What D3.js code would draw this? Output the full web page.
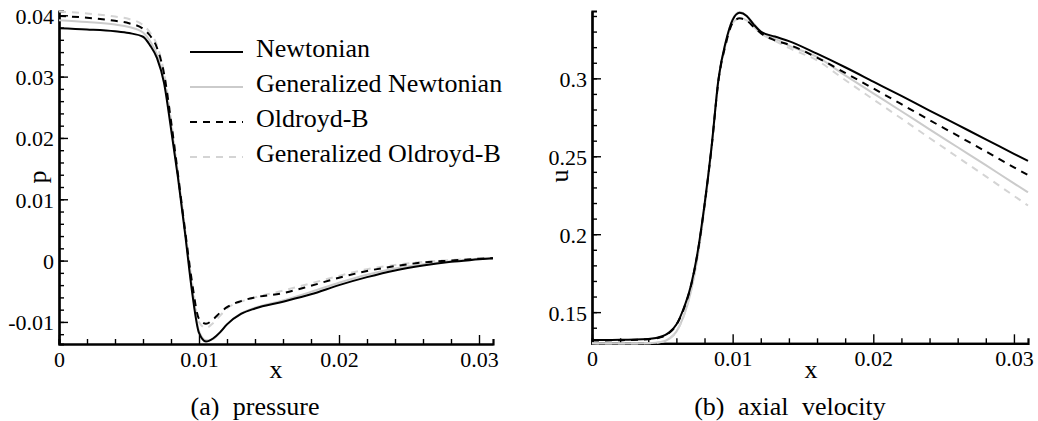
<!DOCTYPE html>
<html>
<head>
<meta charset="utf-8">
<script src="https://cdn.jsdelivr.net/npm/d3@7"></script>
</head>
<body style="margin:0">
<svg id="chart" width="1038" height="421" style="font-family: 'Liberation Serif'"></svg>
<script>
// --- data -------------------------------------------------------------------
const seriesNames = ['Newtonian', 'Generalized Newtonian', 'Oldroyd-B', 'Generalized Oldroyd-B'];

// (a) pressure
const xPressure = [0, 0.002, 0.004, 0.005, 0.006, 0.0065, 0.007, 0.0075, 0.008, 0.0085, 0.009, 0.0095,
  0.010, 0.0105, 0.011, 0.0115, 0.012, 0.013, 0.014, 0.016, 0.018, 0.020, 0.022, 0.024, 0.026, 0.028, 0.030, 0.031];
const pNewtonian = [0.0379, 0.0377, 0.0374, 0.0371, 0.0365, 0.0351, 0.0330, 0.0290, 0.0215, 0.0135, 0.0045, -0.0050,
  -0.0118, -0.0132, -0.0127, -0.0117, -0.0104, -0.0087, -0.0078, -0.0067, -0.0055, -0.0040, -0.0027, -0.0016, -0.0008, -0.0002, 0.0002, 0.0004];
const pGenNewtonian = [0.0392, 0.0389, 0.0385, 0.0381, 0.0372, 0.0358, 0.0336, 0.0295, 0.0222, 0.0140, 0.0050, -0.0045,
  -0.0115, -0.0130, -0.0128, -0.0117, -0.0104, -0.0086, -0.0077, -0.0065, -0.0051, -0.0036, -0.0023, -0.0013, -0.0006, -0.0001, 0.0003, 0.0004];
const pOldroydB = [0.0399, 0.0396, 0.0391, 0.0387, 0.0378, 0.0367, 0.0347, 0.0305, 0.0228, 0.0140, 0.0050, -0.0035,
  -0.0095, -0.0103, -0.0096, -0.0085, -0.0076, -0.0066, -0.0060, -0.0053, -0.0041, -0.0028, -0.0017, -0.0009, -0.0003, 0.0000, 0.0003, 0.0004];
const pGenOldroydB = [0.0406, 0.0403, 0.0398, 0.0394, 0.0384, 0.0372, 0.0351, 0.0307, 0.0230, 0.0142, 0.0052, -0.0035,
  -0.0100, -0.0110, -0.0102, -0.0090, -0.0078, -0.0067, -0.0060, -0.0049, -0.0037, -0.0025, -0.0014, -0.0007, -0.0002, 0.0001, 0.0003, 0.0004];

// (b) axial velocity
const xVelocity = [0, 0.002, 0.004, 0.005, 0.0055, 0.006, 0.0065, 0.007, 0.0075, 0.008, 0.0085, 0.009, 0.0095,
  0.010, 0.0105, 0.011, 0.0115, 0.012, 0.013, 0.014, 0.016, 0.018, 0.020, 0.022, 0.024, 0.026, 0.028, 0.030, 0.031];
const uNewtonian = [0.1321, 0.1322, 0.1328, 0.1345, 0.1370, 0.1420, 0.1520, 0.1660, 0.1880, 0.2190, 0.2560, 0.3000, 0.3230,
  0.3375, 0.3420, 0.3400, 0.3345, 0.3300, 0.3268, 0.3239, 0.3158, 0.3071, 0.2979, 0.2887, 0.2793, 0.2701, 0.2609, 0.2516, 0.2470];
const uGenNewtonian = [0.1300, 0.1298, 0.1300, 0.1310, 0.1330, 0.1375, 0.1470, 0.1620, 0.1850, 0.2170, 0.2550, 0.3000, 0.3230,
  0.3380, 0.3425, 0.3400, 0.3350, 0.3300, 0.3255, 0.3210, 0.3137, 0.3019, 0.2904, 0.2789, 0.2673, 0.2558, 0.2443, 0.2326, 0.2269];
const uOldroydB = [0.1318, 0.1320, 0.1326, 0.1342, 0.1368, 0.1418, 0.1515, 0.1655, 0.1875, 0.2185, 0.2555, 0.2990, 0.3215,
  0.3355, 0.3385, 0.3370, 0.3330, 0.3290, 0.3244, 0.3216, 0.3133, 0.3035, 0.2935, 0.2834, 0.2732, 0.2632, 0.2531, 0.2429, 0.2379];
const uGenOldroydB = [0.1300, 0.1298, 0.1300, 0.1310, 0.1330, 0.1375, 0.1470, 0.1620, 0.1850, 0.2170, 0.2550, 0.2990, 0.3215,
  0.3355, 0.3385, 0.3372, 0.3330, 0.3290, 0.3240, 0.3195, 0.3115, 0.2989, 0.2865, 0.2742, 0.2617, 0.2494, 0.2371, 0.2246, 0.2184];

// ticks
const xMajorTicks = [0, 0.01, 0.02, 0.03];
const pMajorTicks = [-0.01, 0, 0.01, 0.02, 0.03, 0.04];
const uMajorTicks = [0.15, 0.2, 0.25, 0.3];

// --- styles -----------------------------------------------------------------
const FONT = 'Liberation Serif';
const lineStyles = [
  { color: '#000000', dash: null },
  { color: '#cbcbcb', dash: null },
  { color: '#000000', dash: '7,6' },
  { color: '#d4d4d4', dash: '7,6' }
];

const svg = d3.select('#chart');
const fmt = d => String(+d.toFixed(3));

// every text gets the serif family explicitly
function serif(sel, size) {
  return sel.attr('font-family', FONT).attr('font-size', size).style('font-family', FONT);
}

function drawPanel(opt) {
  const x = d3.scaleLinear().domain([0, 0.031]).range(opt.xRange);
  const y = d3.scaleLinear().domain(opt.yDomain).range(opt.yRange);
  const g = svg.append('g');

  // minor ticks first, then majors with labels
  const minorX = d3.range(0, 0.0311, 0.002).filter(v => !xMajorTicks.some(t => Math.abs(t - v) < 1e-9));
  g.append('g')
    .attr('transform', `translate(0,${opt.yRange[0]})`)
    .call(d3.axisBottom(x).tickValues(minorX).tickSize(-5).tickFormat(''));
  g.append('g')
    .attr('transform', `translate(${opt.xRange[0]},0)`)
    .call(d3.axisLeft(y).tickValues(opt.yMinor).tickSize(-5).tickFormat(''));

  const xa = g.append('g')
    .attr('transform', `translate(0,${opt.yRange[0]})`)
    .call(d3.axisBottom(x).tickValues(xMajorTicks).tickSize(-9).tickSizeOuter(0).tickPadding(0).tickFormat(fmt));
  xa.selectAll('text').attr('y', 23).attr('dy', 0);

  const ya = g.append('g')
    .attr('transform', `translate(${opt.xRange[0]},0)`)
    .call(d3.axisLeft(y).tickValues(opt.yMajor).tickSize(-9).tickSizeOuter(0).tickFormat(fmt));
  ya.selectAll('text').attr('x', -5).attr('dy', '0.36em');

  g.selectAll('g').attr('font-family', null).attr('font-size', null);
  serif(g.selectAll('.tick text'), 22).attr('fill', '#000');
  g.selectAll('.domain').attr('stroke', '#000').attr('stroke-width', 2.2);
  g.selectAll('.tick line').attr('stroke', '#000').attr('stroke-width', 1.4);

  // curves
  const line = d3.line().x(d => x(d[0])).y(d => y(d[1])).curve(d3.curveMonotoneX);
  const order = [1, 3, 2, 0];
  order.forEach(i => {
    const pts = opt.xs.map((v, k) => [v, opt.series[i][k]]);
    g.append('path')
      .attr('d', line(pts))
      .attr('fill', 'none')
      .attr('stroke', lineStyles[i].color)
      .attr('stroke-width', 2)
      .attr('stroke-dasharray', lineStyles[i].dash);
  });

  // axis titles
  serif(g.append('text'), 26)
    .attr('x', opt.xTitle[0]).attr('y', opt.xTitle[1])
    .attr('text-anchor', 'middle')
    .text('x');
  serif(g.append('text'), 26)
    .attr('transform', `translate(${opt.yTitle[0]},${opt.yTitle[1]}) rotate(-90)`)
    .attr('text-anchor', 'middle')
    .text(opt.yLabel);

  // caption
  serif(g.append('text'), 26)
    .attr('x', opt.caption[0]).attr('y', opt.caption[1])
    .attr('text-anchor', 'middle')
    .attr('word-spacing', 7)
    .text(opt.captionText);
}

drawPanel({
  xRange: [59, 493],
  yDomain: [-0.0136, 0.0407],
  yRange: [344, 11],
  yMajor: pMajorTicks,
  yMinor: d3.range(-0.012, 0.0405, 0.002),
  xs: xPressure,
  series: [pNewtonian, pGenNewtonian, pOldroydB, pGenOldroydB],
  xTitle: [276, 378],
  yTitle: [46, 177],
  yLabel: 'p',
  caption: [255, 415],
  captionText: '(a) pressure'
});

drawPanel({
  xRange: [592, 1028],
  yDomain: [0.13, 0.3432],
  yRange: [343.3, 11],
  yMajor: uMajorTicks,
  yMinor: d3.range(0.14, 0.3405, 0.01),
  xs: xVelocity,
  series: [uNewtonian, uGenNewtonian, uOldroydB, uGenOldroydB],
  xTitle: [811, 378],
  yTitle: [568, 176],
  yLabel: 'u',
  caption: [790, 415],
  captionText: '(b) axial velocity'
});

// legend in the pressure panel
const legend = svg.append('g');
seriesNames.forEach((name, i) => {
  const yy = 52 + i * 35;
  legend.append('line')
    .attr('x1', 190).attr('x2', 243).attr('y1', yy).attr('y2', yy)
    .attr('stroke', lineStyles[i].color)
    .attr('stroke-width', 2)
    .attr('stroke-dasharray', lineStyles[i].dash);
  serif(legend.append('text'), 26)
    .attr('x', 256).attr('y', yy + 5)
    .attr('fill', '#000')
    .text(name);
});
</script>
</body>
</html>
